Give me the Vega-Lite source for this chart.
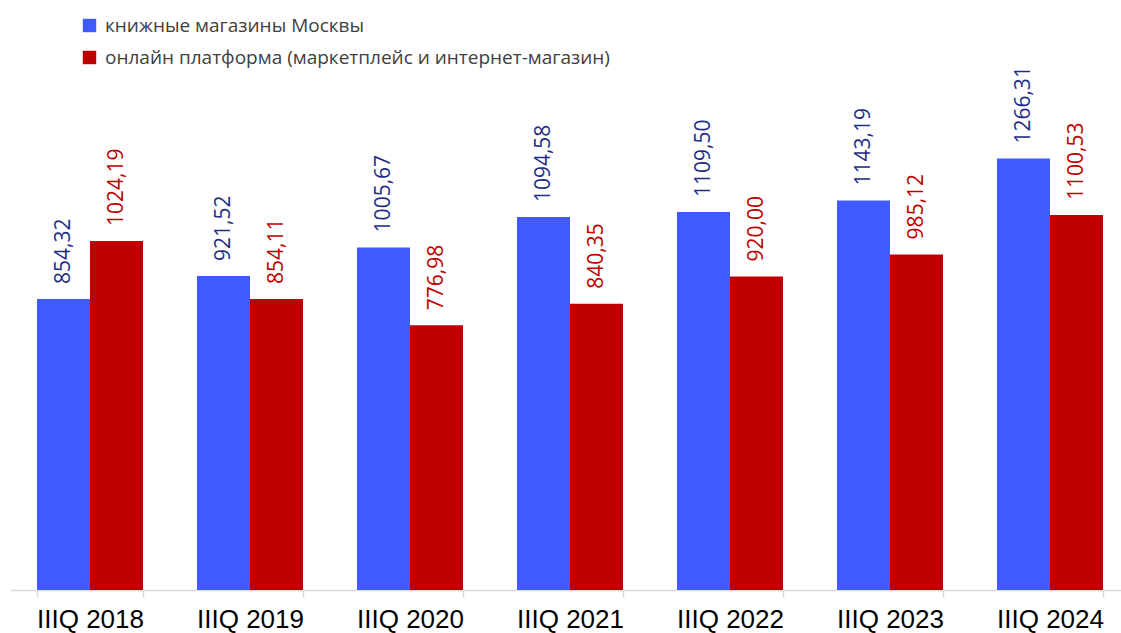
{
  "$schema": "https://vega.github.io/schema/vega-lite/v6.json",
  "autosize": {"type": "none"},
  "width": 1120,
  "height": 510,
  "padding": {"left": 10, "top": 80, "right": 0, "bottom": 43},
  "background": "#ffffff",
  "config": {
    "view": {"stroke": null},
    "locale": {"number": {"decimal": ",", "thousands": " ", "grouping": [3], "currency": ["", ""]}}
  },
  "data": {
    "values": [
      {"period": "IIIQ 2018", "series": "книжные магазины Москвы", "value": 854.32},
      {"period": "IIIQ 2018", "series": "онлайн платформа (маркетплейс и интернет-магазин)", "value": 1024.19},
      {"period": "IIIQ 2019", "series": "книжные магазины Москвы", "value": 921.52},
      {"period": "IIIQ 2019", "series": "онлайн платформа (маркетплейс и интернет-магазин)", "value": 854.11},
      {"period": "IIIQ 2020", "series": "книжные магазины Москвы", "value": 1005.67},
      {"period": "IIIQ 2020", "series": "онлайн платформа (маркетплейс и интернет-магазин)", "value": 776.98},
      {"period": "IIIQ 2021", "series": "книжные магазины Москвы", "value": 1094.58},
      {"period": "IIIQ 2021", "series": "онлайн платформа (маркетплейс и интернет-магазин)", "value": 840.35},
      {"period": "IIIQ 2022", "series": "книжные магазины Москвы", "value": 1109.50},
      {"period": "IIIQ 2022", "series": "онлайн платформа (маркетплейс и интернет-магазин)", "value": 920.00},
      {"period": "IIIQ 2023", "series": "книжные магазины Москвы", "value": 1143.19},
      {"period": "IIIQ 2023", "series": "онлайн платформа (маркетплейс и интернет-магазин)", "value": 985.12},
      {"period": "IIIQ 2024", "series": "книжные магазины Москвы", "value": 1266.31},
      {"period": "IIIQ 2024", "series": "онлайн платформа (маркетплейс и интернет-магазин)", "value": 1100.53}
    ]
  },
  "encoding": {
    "x": {
      "field": "period", "type": "nominal", "sort": null, "title": null,
      "scale": {"paddingInner": 0.3375, "paddingOuter": 0.16875},
      "axis": {
        "labelAngle": 0, "labelFont": "Liberation Sans", "labelFontSize": 26, "labelColor": "#000000",
        "labelBaseline": "alphabetic", "labelPadding": 30, "domainColor": "#d9d9d9", "domainWidth": 1.5,
        "tickColor": "#d9d9d9", "tickWidth": 1.5, "tickSize": 7, "tickBand": "extent"
      }
    },
    "xOffset": {"field": "series", "type": "nominal", "sort": null,
      "scale": {"domain": ["книжные магазины Москвы", "онлайн платформа (маркетплейс и интернет-магазин)"], "paddingInner": 0, "paddingOuter": 0}},
    "y": {"field": "value", "type": "quantitative", "scale": {"domain": [0, 1497], "nice": false}, "axis": null}
  },
  "layer": [
    {
      "mark": {"type": "bar"},
      "encoding": {
        "color": {
          "field": "series", "type": "nominal",
          "scale": {"domain": ["книжные магазины Москвы", "онлайн платформа (маркетплейс и интернет-магазин)"], "range": ["#3F5BFF", "#C00000"]},
          "legend": {
            "title": null, "orient": "none", "legendX": 70, "legendY": -64, "padding": 0,
            "symbolType": "square", "symbolSize": 180, "symbolStrokeWidth": 0, "symbolOpacity": 1,
            "labelFont": "Open Sans", "labelFontSize": 19, "labelColor": "#404040", "labelOffset": 6,
            "rowPadding": 12, "labelLimit": 800
          }
        }
      }
    },
    {
      "mark": {"type": "text", "angle": 270, "align": "left", "baseline": "middle", "dx": 15, "font": "Open Sans", "fontSize": 21},
      "encoding": {
        "text": {"field": "value", "type": "quantitative", "format": ".2f"},
        "color": {"condition": {"test": "datum.series === 'книжные магазины Москвы'", "value": "#1F2D86"}, "value": "#C00000"}
      }
    }
  ]
}
